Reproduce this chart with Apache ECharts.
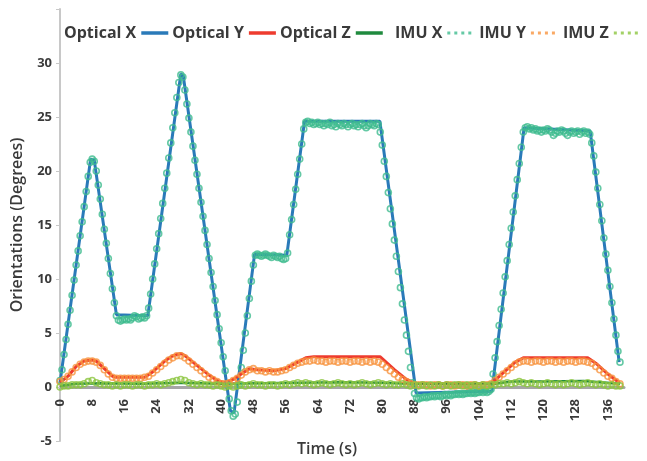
<!DOCTYPE html>
<html>
<head>
<meta charset="utf-8">
<script src="https://cdn.jsdelivr.net/npm/echarts@6/dist/echarts.min.js"></script>
<style>
html,body{margin:0;padding:0;background:#fff;}
#chart{width:647px;height:461px;}
</style>
</head>
<body>
<div id="chart"></div>
<script>
// ---- Data ----
const seriesNames = ['Optical X', 'Optical Y', 'Optical Z', 'IMU X', 'IMU Y', 'IMU Z'];
const xTickInterval = 8;          // tick labels: 0, 8, 16, ... 136
const yTickLabels = [-5, 0, 5, 10, 15, 20, 25, 30];

// Optical X (breakpoints: time s, degrees)
const opticalXTime  = [0, 7.6, 8.5, 14, 21.8, 30, 30.6, 42.3, 43.2, 48.3, 56.3, 60.7, 79.4, 88.4, 107.2, 115.2, 131.6, 138.8];
const opticalXValue = [0.4, 21.1, 21.0, 6.7, 6.6, 29.0, 28.8, -2.2, -2.4, 12.3, 12.2, 24.6, 24.6, -0.55, -0.4, 24.0, 23.7, 2.3];

// Optical Y
const opticalYTime  = [0, 2, 4, 6, 8, 9, 11, 13, 14, 21, 23, 26, 28, 30, 31, 34, 37, 39, 41, 43, 45, 47, 49, 53, 56, 58, 61, 63, 79.5, 83, 86, 88, 107, 110, 113, 115, 131, 133, 136, 139];
const opticalYValue = [0.4, 1.0, 1.9, 2.4, 2.5, 2.4, 1.7, 1.0, 0.9, 0.9, 1.4, 2.4, 2.9, 3.1, 2.9, 2.0, 1.1, 0.6, 0.4, 0.7, 1.2, 1.7, 1.6, 1.5, 1.7, 2.1, 2.7, 2.8, 2.8, 1.6, 0.7, 0.35, 0.3, 1.3, 2.3, 2.7, 2.7, 2.2, 1.2, 0.35];

// Optical Z
const opticalZTime  = [0, 4, 10, 20, 30, 40, 50, 60, 70, 80, 87, 100, 108, 112, 120, 130, 139];
const opticalZValue = [0.1, 0.3, 0.35, 0.3, 0.4, 0.3, 0.35, 0.4, 0.45, 0.4, 0.3, 0.25, 0.3, 0.5, 0.5, 0.55, 0.3];

// IMU X, sampled every 0.5 s from t = 0
const imuXStep = 0.5;
const imuXValue = [
  0.6,1.6,3.0,4.4,5.8,7.1,8.5,9.9,11.3,12.6,14.0,15.3,16.7,18.1,19.5,20.8,21.1,20.9,20.0,18.7,
  17.4,16.0,14.6,13.3,11.9,10.5,9.1,7.8,6.6,6.2,6.1,6.2,6.3,6.2,6.3,6.2,6.4,6.6,6.5,6.3,
  6.4,6.5,6.4,6.6,7.3,8.6,10.0,11.4,12.8,14.2,15.6,17.0,18.4,19.8,21.2,22.6,24.0,25.4,26.8,28.2,
  28.9,28.7,27.5,26.2,24.9,23.6,22.3,21.0,19.7,18.4,17.1,15.8,14.5,13.2,11.9,10.6,9.3,8.0,6.7,5.4,
  4.1,2.8,1.5,0.2,-1.1,-2.2,-2.7,-2.5,-1.4,0.2,1.8,3.4,5.0,6.6,8.2,9.8,11.3,12.2,12.3,12.2,
  12.1,12.2,12.3,12.2,12.1,12.0,12.2,12.1,12.0,12.1,11.9,11.8,11.9,12.4,14.1,15.5,16.9,18.3,19.7,21.1,
  22.5,23.9,24.5,24.6,24.4,24.5,24.3,24.4,24.5,24.3,24.4,24.2,24.4,24.3,24.5,24.2,24.3,24.1,24.4,24.3,
  24.2,24.4,24.3,24.1,24.3,24.4,24.2,24.3,24.1,24.3,24.4,24.2,24.0,24.2,24.4,24.3,24.2,24.4,24.3,23.6,
  22.4,20.9,19.5,18.0,16.5,15.1,13.6,12.1,10.7,9.2,7.7,6.2,4.8,3.3,1.8,0.4,-0.6,-1.0,-1.1,-1.0,
  -1.0,-0.9,-1.0,-0.9,-0.9,-0.8,-0.9,-0.8,-0.8,-0.9,-0.8,-0.7,-0.8,-0.7,-0.8,-0.7,-0.7,-0.6,-0.7,-0.6,
  -0.7,-0.6,-0.6,-0.5,-0.6,-0.5,-0.6,-0.5,-0.5,-0.4,-0.5,-0.4,-0.5,-0.4,-0.2,1.2,2.7,4.2,5.7,7.2,
  8.7,10.2,11.7,13.2,14.7,16.2,17.7,19.2,20.7,22.2,23.6,24.0,24.1,23.9,24.0,23.8,23.9,23.7,23.8,23.6,
  23.8,23.7,23.9,23.8,23.6,23.3,23.5,23.7,23.6,23.8,23.7,23.5,23.3,23.6,23.7,23.5,23.6,23.7,23.4,23.6,
  23.7,23.5,23.6,23.4,22.6,21.4,19.9,18.4,16.9,15.4,13.8,12.3,10.8,9.3,7.8,6.3,4.8,3.3,2.3
];

// IMU Y, sampled every 1 s from t = 0
const imuYStep = 1;
const imuYValue = [
  0.5,0.7,1.0,1.4,1.8,2.1,2.3,2.4,2.4,2.3,2.0,1.6,1.2,0.9,0.8,0.8,0.8,0.8,0.8,0.8,
  0.8,0.9,1.0,1.3,1.6,1.9,2.2,2.5,2.7,2.9,2.9,2.7,2.4,2.1,1.8,1.5,1.2,0.9,0.7,0.5,
  0.3,0.3,0.4,0.6,0.8,1.1,1.4,1.6,1.7,1.5,1.5,1.4,1.5,1.4,1.4,1.5,1.6,1.8,2.0,2.2,
  2.3,2.4,2.4,2.5,2.4,2.4,2.3,2.4,2.4,2.3,2.4,2.4,2.3,2.4,2.4,2.3,2.4,2.3,2.4,2.3,
  2.1,1.8,1.5,1.2,0.9,0.7,0.5,0.3,0.2,0.2,0.2,0.2,0.1,0.2,0.2,0.1,0.2,0.2,0.1,0.2,
  0.2,0.1,0.2,0.2,0.1,0.2,0.2,0.3,0.6,0.9,1.2,1.5,1.8,2.1,2.3,2.4,2.4,2.3,2.4,2.4,
  2.3,2.4,2.4,2.3,2.4,2.3,2.4,2.4,2.3,2.4,2.4,2.3,2.2,1.9,1.6,1.3,1.0,0.8,0.5,0.3
];

// IMU Z, sampled every 1 s from t = 0
const imuZStep = 1;
const imuZValue = [
  0.0,0.1,0.1,0.2,0.2,0.2,0.3,0.5,0.6,0.4,0.3,0.2,0.2,0.1,0.2,0.1,0.2,0.2,0.1,0.2,
  0.2,0.1,0.2,0.2,0.3,0.2,0.3,0.4,0.5,0.6,0.7,0.6,0.4,0.3,0.2,0.3,0.2,0.2,0.1,0.2,
  0.1,0.0,0.1,0.0,0.1,0.2,0.1,0.2,0.3,0.2,0.2,0.1,0.2,0.2,0.1,0.2,0.3,0.2,0.3,0.4,
  0.3,0.4,0.3,0.2,0.3,0.4,0.3,0.2,0.3,0.4,0.3,0.2,0.3,0.2,0.3,0.4,0.3,0.2,0.3,0.4,
  0.3,0.2,0.3,0.2,0.2,0.3,0.2,0.1,0.2,0.1,0.2,0.1,0.2,0.1,0.2,0.1,0.2,0.1,0.2,0.2,
  0.1,0.2,0.1,0.2,0.1,0.2,0.1,0.2,0.2,0.3,0.3,0.4,0.3,0.4,0.5,0.4,0.3,0.4,0.3,0.2,
  0.3,0.4,0.3,0.2,0.3,0.2,0.3,0.4,0.3,0.2,0.3,0.4,0.3,0.2,0.3,0.2,0.1,0.2,0.1,0.1
];

// ---- Build chart ----
const colors = {
  'Optical X': '#2a7ab9',
  'Optical Y': '#ee3b2e',
  'Optical Z': '#1f8a3e',
  'IMU X': '#3fbb8f',
  'IMU Y': '#f7943f',
  'IMU Z': '#8cc540'
};
function pairs(ts, vs) { return ts.map((t, i) => [t, vs[i]]); }
function sampled(step, vs) { return vs.map((v, i) => [i * step, v]); }

const FONT = 'Open Sans';
const textColor = '#3a3a3a';

function lineSeries(name, data, width) {
  return {
    name, type: 'line', data, showSymbol: false, symbol: 'none',
    lineStyle: { color: colors[name], width },
    itemStyle: { color: colors[name] },
    z: 3
  };
}
function dotSeries(name, data, size) {
  return {
    name, type: 'scatter', data, symbol: 'circle', symbolSize: size,
    itemStyle: { color: 'rgba(255,255,255,0)', borderColor: colors[name], borderWidth: 1.6 },
    z: 4
  };
}

const dotIcon = 'path://M0,0h3v3h-3z M7,0h3v3h-3z M14,0h3v3h-3z M21,0h3v3h-3z';

const option = {
  animation: false,
  backgroundColor: '#ffffff',
  textStyle: { fontFamily: FONT },
  grid: { left: 60, right: 23, top: 9, bottom: 20, containLabel: false, outerBoundsMode: 'none' },
  legend: [
    {
      left: 59, top: 20, align: 'right', itemGap: 4,
      itemWidth: 27, itemHeight: 3.5, icon: 'rect',
      textStyle: { fontFamily: FONT, fontSize: 16, fontWeight: 'bold', color: textColor },
      data: seriesNames.slice(0, 3).map(n => ({ name: n, itemStyle: { color: colors[n], borderWidth: 0 } }))
    },
    {
      left: 390, top: 20, align: 'right', itemGap: 8,
      itemWidth: 24, itemHeight: 3, icon: dotIcon,
      textStyle: { fontFamily: FONT, fontSize: 16, fontWeight: 'bold', color: textColor },
      data: seriesNames.slice(3).map(n => ({ name: n, itemStyle: { color: colors[n], borderWidth: 0 } }))
    }
  ],
  xAxis: {
    type: 'value', min: 0, max: 140, interval: xTickInterval,
    name: 'Time (s)', nameLocation: 'middle', nameGap: 0, nameMoveOverlap: false,
    nameTextStyle: { fontFamily: FONT, fontSize: 16, fontWeight: 600, color: textColor, padding: [0, 30, 0, 0] },
    axisLine: { onZero: true, lineStyle: { color: '#a6a6a6', width: 3 } },
    axisTick: { show: false },
    axisLabel: {
      rotate: 90, margin: -42, fontFamily: FONT, fontSize: 13, fontWeight: 'bold', color: textColor,
      formatter: v => (v % xTickInterval === 0 && v <= 136) ? String(v) : ''
    },
    splitLine: { show: false }
  },
  yAxis: {
    type: 'value', min: -5, max: 35, interval: 5,
    name: 'Orientations (Degrees)', nameLocation: 'middle', nameGap: 35, nameMoveOverlap: false,
    nameTextStyle: { fontFamily: FONT, fontSize: 16, fontWeight: 600, color: textColor },
    axisLine: { show: true, lineStyle: { color: '#c8c8c8', width: 2 } },
    axisTick: { show: true, length: 4, lineStyle: { color: '#c8c8c8' } },
    axisLabel: {
      margin: 8, fontFamily: FONT, fontSize: 13, fontWeight: 'bold', color: textColor,
      formatter: v => yTickLabels.indexOf(v) >= 0 ? String(v) : ''
    },
    splitLine: { show: false }
  },
  series: [
    lineSeries('Optical X', pairs(opticalXTime, opticalXValue), 3),
    lineSeries('Optical Y', pairs(opticalYTime, opticalYValue), 3),
    lineSeries('Optical Z', pairs(opticalZTime, opticalZValue), 2.5),
    dotSeries('IMU X', sampled(imuXStep, imuXValue), 6),
    dotSeries('IMU Y', sampled(imuYStep, imuYValue), 6),
    dotSeries('IMU Z', sampled(imuZStep, imuZValue), 6)
  ]
};

const chart = echarts.init(document.getElementById('chart'), null, { renderer: 'canvas' });
chart.setOption(option);
</script>
</body>
</html>
